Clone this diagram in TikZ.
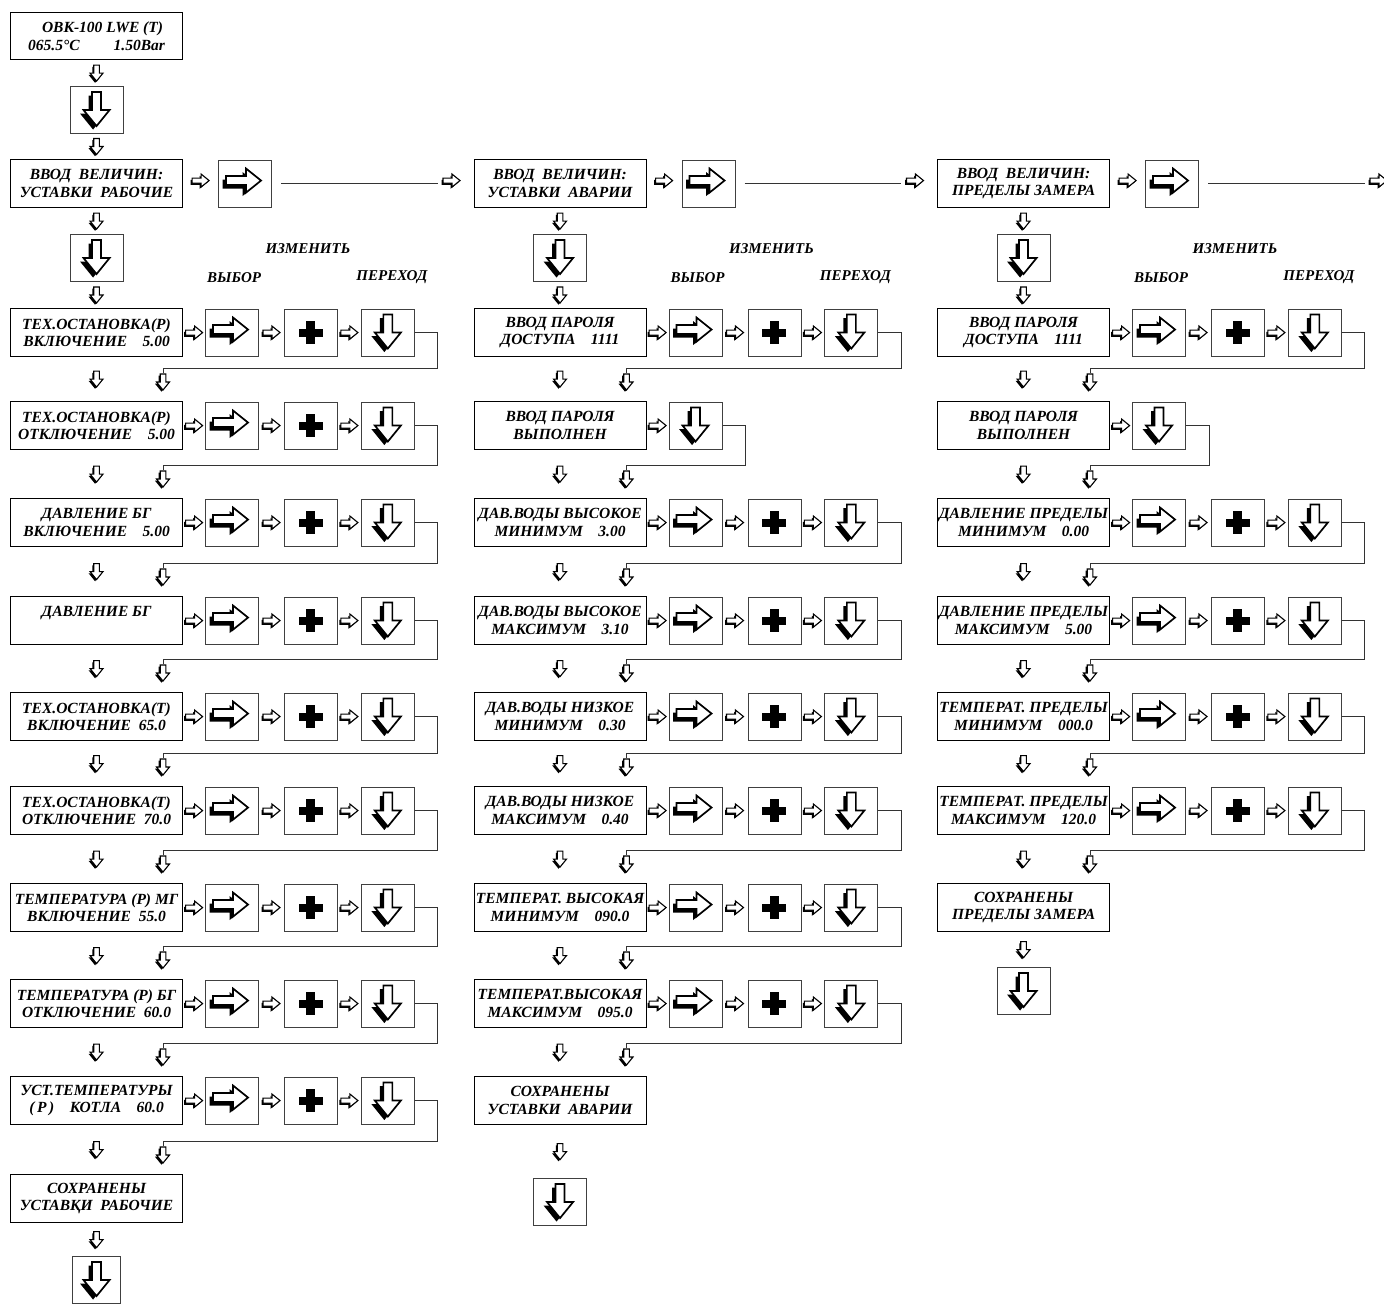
\documentclass[tikz,border=0pt]{standalone}
\usepackage{fontspec}
\setmainfont{Liberation Serif}
\usetikzlibrary{calc,positioning}

% контуры стрелок
\newcommand{\smdnpath}{(-2.8,-8) -- (2.8,-8) -- (2.8,0) -- (6.5,0) -- (0,8) -- (-6.5,0) -- (-2.8,0) -- cycle}
\newcommand{\smrtpath}{(-8.5,-2.5) -- (0.5,-2.5) -- (0.5,-6.5) -- (8.5,0) -- (0.5,6.5) -- (0.5,2.5) -- (-8.5,2.5) -- cycle}
\newcommand{\bigdnpath}{(-4.5,-18) -- (4.5,-18) -- (4.5,0) -- (13,0) -- (0,16) -- (-13,0) -- (-4.5,0) -- cycle}
\newcommand{\bigrtpath}{(-19,-7.5) -- (1,-7.5) -- (1,-15) -- (16,-3) -- (1,9) -- (1,1.5) -- (-19,1.5) -- cycle}

\tikzset{
  screen/.style={draw, line width=1.1pt, minimum width=172pt, minimum height=48pt,
    inner sep=0pt, align=center, font=\bfseries\itshape\fontsize{15.5}{17.5}\selectfont},
  keybox/.style={draw=black!75, line width=0.9pt, minimum width=53pt, minimum height=47pt, inner sep=0pt},
  wire/.style={line width=0.8pt, black!80},
  caption/.style={inner sep=0pt, font=\bfseries\itshape\fontsize{15}{17}\selectfont},
  smdown/.pic={\fill[shift={(-1.5,1.7)}] \smdnpath; \filldraw[fill=white, line width=1.1pt] \smdnpath;},
  smright/.pic={\fill[shift={(-1.5,1.7)}] \smrtpath; \filldraw[fill=white, line width=1.1pt] \smrtpath;},
  bigdown/.pic={\fill[shift={(-3.5,3.5)}] \bigdnpath; \filldraw[fill=white, line width=1.7pt] \bigdnpath;},
  bigright/.pic={\fill[shift={(-3.5,3.5)}] \bigrtpath; \filldraw[fill=white, line width=1.7pt] \bigrtpath;},
  plus/.pic={\fill (-12,-4) rectangle (12,4); \fill (-4.5,-11.5) rectangle (4.5,11.5);}
}

% переход к следующей строке: столбец, строка, следующая строка, откуда
\newcommand{\stepdown}[4]{%
  \coordinate (#1j#2) at ($(#1#3.north west)+(153,-33)$);
  \draw[wire] (#4.east) -- ++(23,0) |- (#1j#2) -- ++(0,5);
  \pic at ($(#1#3.north west)+(153,-19)$) {smdown};
  \pic at ($(#1#2.south)!.5!(#1#3.north)$) {smdown};
}
% строка с кнопками: выбор, плюс, переход
\newcommand{\keyrow}[2]{%
  \pgfmathtruncatemacro{\nxt}{#2+1}%
  \node[keybox, right=22pt of #1#2] (#1s#2) {};
  \node[keybox, right=25pt of #1s#2] (#1p#2) {};
  \node[keybox, right=23pt of #1p#2] (#1d#2) {};
  \pic at (#1s#2) {bigright};
  \pic at (#1p#2) {plus};
  \pic at (#1d#2) {bigdown};
  \pic at ($(#1#2.east)!.5!(#1s#2.west)$) {smright};
  \pic at ($(#1s#2.east)!.5!(#1p#2.west)$) {smright};
  \pic at ($(#1p#2.east)!.5!(#1d#2.west)$) {smright};
  \stepdown{#1}{#2}{\nxt}{#1d#2}%
}

\begin{document}
\begin{tikzpicture}[x=1pt, y=-1pt]
  \useasboundingbox (0,0) rectangle (1384,1304);
  % исходный экран
  \node[screen, minimum height=47pt, anchor=north west] (ovk) at (10,12)
    {\hspace{12pt}ОВК-100 LWE (T)\\065.5°C\hspace{34pt}1.50Bar};
  \node[keybox, below=26pt of ovk] (k0) {};
  \pic at (k0) {bigdown};
  \pic at ($(ovk.south)!.5!(k0.north)$) {smdown};
  % заголовки столбцов
  \foreach \col/\xx/\tb in {a/10/УСТАВКИ\enspace РАБОЧИЕ, b/473.5/УСТАВКИ\enspace АВАРИИ, c/937/ПРЕДЕЛЫ ЗАМЕРА}{
    \node[screen, anchor=north west] (h\col) at (\xx,159) {ВВОД\enspace ВЕЛИЧИН:\\\tb};
    \node[keybox, right=35pt of h\col] (h\col-r) {};
    \node[keybox, below=26pt of h\col] (h\col-d) {};
    \coordinate (h\col-n) at ($(h\col.west)+(463.5,0)$);
    \pic at (h\col-r) {bigright};
    \pic at (h\col-d) {bigdown};
    \pic at ($(h\col.east)!.5!(h\col-r.west)+(0,-3)$) {smright};
    \pic at ($(h\col.south)!.5!(h\col-d.north)$) {smdown};
    \draw[wire] ($(h\col-r.east)+(9,0)$) -- ($(h\col-n)+(-36,0)$);
    \pic at ($(h\col-n)+(-22,-3)$) {smright};
  }
  \pic at ($(k0.south)!.5!(ha.north)$) {smdown};

  % столбец 1: уставки рабочие
  \foreach \yy/\ta/\tb [count=\i] in {
      308/ТЕХ.ОСТАНОВКА(Р)/ВКЛЮЧЕНИЕ\quad 5.00,
      401/ТЕХ.ОСТАНОВКА(Р)/ОТКЛЮЧЕНИЕ\quad 5.00,
      498/ДАВЛЕНИЕ БГ/ВКЛЮЧЕНИЕ\quad 5.00,
      596/ДАВЛЕНИЕ БГ/~,
      692/ТЕХ.ОСТАНОВКА(Т)/ВКЛЮЧЕНИЕ\enspace 65.0,
      786/ТЕХ.ОСТАНОВКА(Т)/ОТКЛЮЧЕНИЕ\enspace 70.0,
      883/ТЕМПЕРАТУРА (Р) МГ/ВКЛЮЧЕНИЕ\enspace 55.0,
      979/ТЕМПЕРАТУРА (Р) БГ/ОТКЛЮЧЕНИЕ\enspace 60.0,
      1076/УСТ.ТЕМПЕРАТУРЫ/{(\,Р\,)\quad КОТЛА\quad 60.0},
      1174/СОХРАНЕНЫ/УСТАВҚИ\enspace РАБОЧИЕ}
    \node[screen, anchor=north west] (a\i) at (10,\yy) {\ta\\\tb};
  \foreach \i in {1,...,9} {\keyrow{a}{\i}}
  \node[keybox, minimum width=48pt, below=33pt of a10] (a-end) {};
  \pic at (a-end) {bigdown};
  \pic at ($(a10.south)!.5!(a-end.north)$) {smdown};

  % столбец 2: уставки аварии
  \foreach \yy/\ta/\tb [count=\i] in {
      308/ВВОД ПАРОЛЯ/ДОСТУПА\quad 1111,
      401/ВВОД ПАРОЛЯ/ВЫПОЛНЕН,
      498/ДАВ.ВОДЫ ВЫСОКОЕ/МИНИМУМ\quad 3.00,
      596/ДАВ.ВОДЫ ВЫСОКОЕ/МАКСИМУМ\quad 3.10,
      692/ДАВ.ВОДЫ НИЗКОЕ/МИНИМУМ\quad 0.30,
      786/ДАВ.ВОДЫ НИЗКОЕ/МАКСИМУМ\quad 0.40,
      883/ТЕМПЕРАТ. ВЫСОКАЯ/МИНИМУМ\quad 090.0,
      979/ТЕМПЕРАТ.ВЫСОКАЯ/МАКСИМУМ\quad 095.0,
      1076/СОХРАНЕНЫ/УСТАВКИ\enspace АВАРИИ}
    \node[screen, anchor=north west] (b\i) at (473.5,\yy) {\ta\\\tb};
  \foreach \i in {1,3,4,5,6,7,8} {\keyrow{b}{\i}}
  \node[keybox, right=22pt of b2] (bd2) {};
  \pic at (bd2) {bigdown};
  \pic at ($(b2.east)!.5!(bd2.west)$) {smright};
  \stepdown{b}{2}{3}{bd2}
  \node[keybox, below=53pt of b9] (b-end) {};
  \pic at (b-end) {bigdown};
  \pic at ($(b9.south)!.5!(b-end.north)$) {smdown};

  % столбец 3: пределы замера
  \foreach \yy/\ta/\tb [count=\i] in {
      308/ВВОД ПАРОЛЯ/ДОСТУПА\quad 1111,
      401/ВВОД ПАРОЛЯ/ВЫПОЛНЕН,
      498/ДАВЛЕНИЕ ПРЕДЕЛЫ/МИНИМУМ\quad 0.00,
      596/ДАВЛЕНИЕ ПРЕДЕЛЫ/МАКСИМУМ\quad 5.00,
      692/ТЕМПЕРАТ. ПРЕДЕЛЫ/МИНИМУМ\quad 000.0,
      786/ТЕМПЕРАТ. ПРЕДЕЛЫ/МАКСИМУМ\quad 120.0,
      883/СОХРАНЕНЫ/ПРЕДЕЛЫ ЗАМЕРА}
    \node[screen, anchor=north west] (c\i) at (937,\yy) {\ta\\\tb};
  \foreach \i in {1,3,4,5,6} {\keyrow{c}{\i}}
  \node[keybox, right=22pt of c2] (cd2) {};
  \pic at (cd2) {bigdown};
  \pic at ($(c2.east)!.5!(cd2.west)$) {smright};
  \stepdown{c}{2}{3}{cd2}
  \node[keybox, below=35pt of c7] (c-end) {};
  \pic at (c-end) {bigdown};
  \pic at ($(c7.south)!.5!(c-end.north)$) {smdown};

  % подписи кнопок
  \foreach \col in {a,b,c}{
    \node[caption] (\col-izm) at ($(\col p1.north)+(-3,-60)$) {ИЗМЕНИТЬ};
    \node[caption] (\col-vyb) at ($(\col s1.north)+(2,-31)$) {ВЫБОР};
    \node[caption] (\col-per) at ($(\col d1.north)+(4,-31)$) {ПЕРЕХОД};
    \pic at ($(h\col-d.south)!.5!(\col1.north)$) {smdown};
  }
\end{tikzpicture}
\end{document}
